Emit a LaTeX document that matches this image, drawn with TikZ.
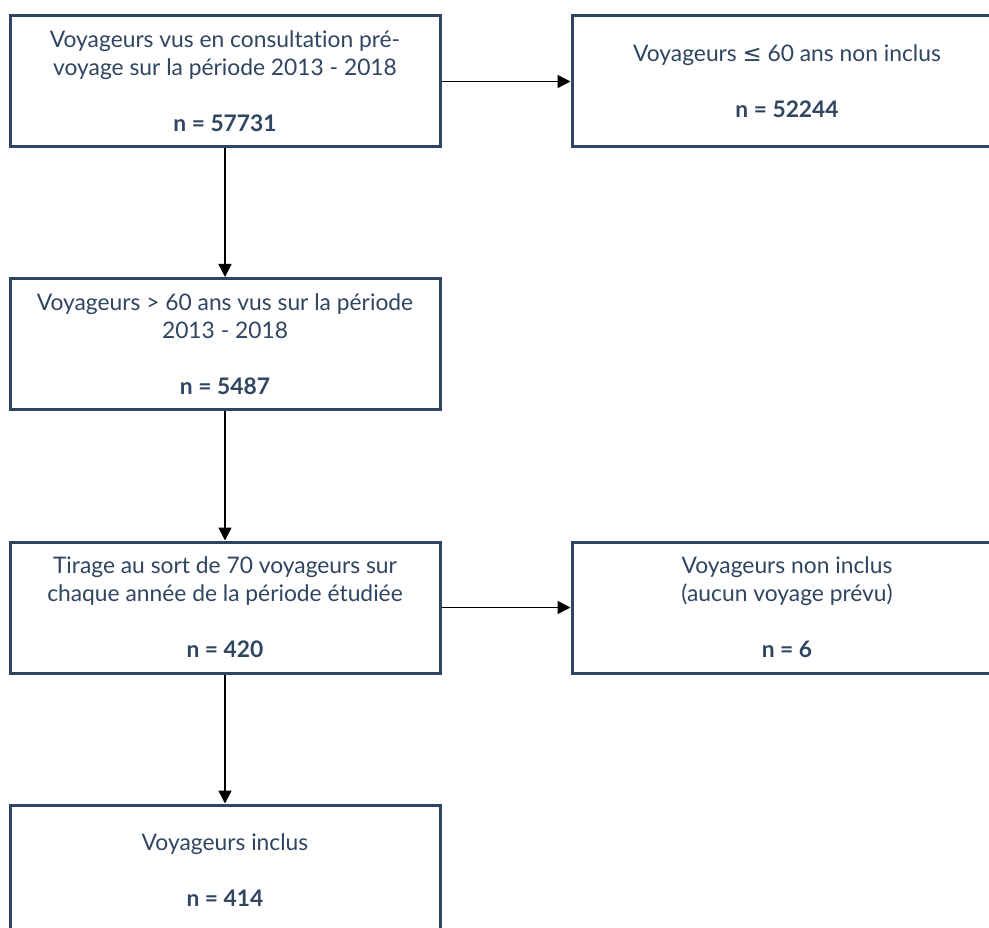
\documentclass[tikz,border=0pt]{standalone}
\usepackage{fontspec}
\setmainfont{Lato}[Ligatures=NoCommon]
\newfontfamily\symfont{DejaVu Sans}
\usetikzlibrary{arrows.meta}

\definecolor{boxcol}{HTML}{2F4560}

\tikzset{
  stage/.style={draw=boxcol, line width=3pt, rectangle, minimum width=430pt,
    minimum height=131pt, inner sep=0pt, align=center, text=boxcol,
    font=\fontsize{22.8}{28}\selectfont},
  flow/.style={draw=black, line width=1.5pt, -{Triangle[length=13pt,width=13pt]}}
}

\begin{document}
\begin{tikzpicture}[x=1pt,y=-1pt]
\clip (0,0) rectangle (989,928);
\fill[white] (0,0) rectangle (989,928);

\node[stage] (total) at (225,81.5) {Voyageurs vus en consultation pré-\\voyage sur la période 2013 - 2018\\[28pt]\textbf{n = 57731}};
\node[stage] (young) at (787,81.5) {Voyageurs {\symfont ≤} 60 ans non inclus\\[28pt]\textbf{n = 52244}};
\node[stage] (old) at (225,344) {Voyageurs > 60 ans vus sur la période\\2013 - 2018\\[28pt]\textbf{n = 5487}};
\node[stage] (draw) at (225,607.5) {Tirage au sort de 70 voyageurs sur\\chaque année de la période étudiée\\[28pt]\textbf{n = 420}};
\node[stage] (excl) at (787,607.5) {Voyageurs non inclus\\(aucun voyage prévu)\\[28pt]\textbf{n = 6}};
\node[stage] (incl) at (225,870.5) {Voyageurs inclus\\[28pt]\textbf{n = 414}};

\draw[flow] (total) -- (young);
\draw[flow] (total) -- (old);
\draw[flow] (old) -- (draw);
\draw[flow] (draw) -- (excl);
\draw[flow] (draw) -- (incl);

\end{tikzpicture}
\end{document}
